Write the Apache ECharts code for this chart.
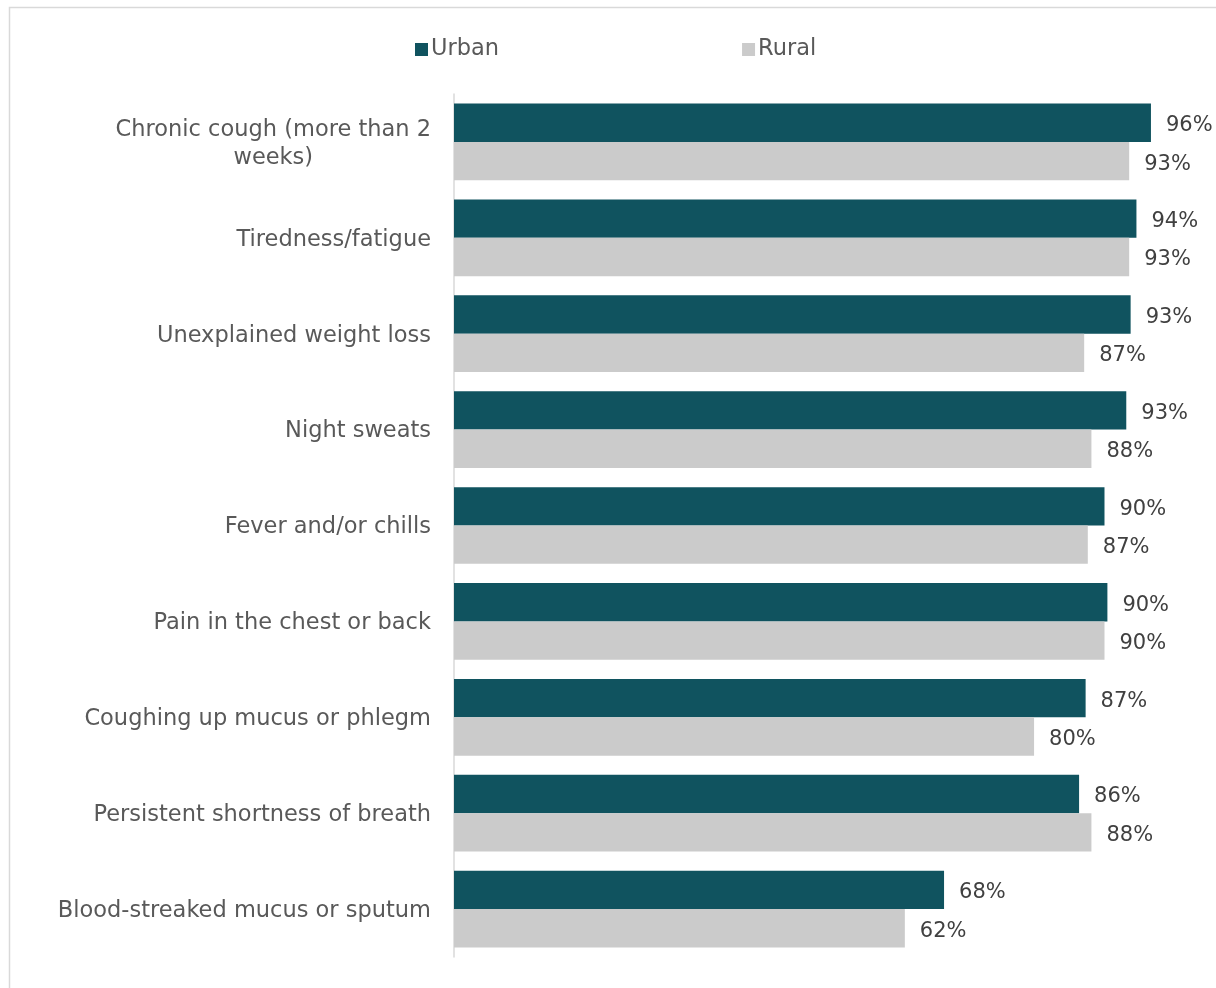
<!DOCTYPE html>
<html>
<head>
<meta charset="utf-8">
<script src="https://cdn.jsdelivr.net/npm/echarts@6/dist/echarts.min.js"></script>
<style>
html,body{margin:0;padding:0;background:#fff;}
#chart{width:1216px;height:988px;}
</style>
</head>
<body>
<div id="chart"></div>
<script>
var categories = [
  "Chronic cough (more than 2\nweeks)",
  "Tiredness/fatigue",
  "Unexplained weight loss",
  "Night sweats",
  "Fever and/or chills",
  "Pain in the chest or back",
  "Coughing up mucus or phlegm",
  "Persistent shortness of breath",
  "Blood-streaked mucus or sputum"
];
var urban = [96.0, 94.0, 93.2, 92.6, 89.6, 90.0, 87.0, 86.1, 67.5];
var rural = [93.0, 93.0, 86.8, 87.8, 87.3, 89.6, 79.9, 87.8, 62.1];
var seriesNames = ["Urban", "Rural"];

var FONT = "DejaVu Sans";
var chart = echarts.init(document.getElementById('chart'));

function pct(p){ return Math.round(p.value) + '%'; }

chart.setOption({
  animation: false,
  backgroundColor: '#ffffff',
  textStyle: { fontFamily: FONT },
  graphic: [{
    type: 'rect',
    shape: { x: 9.5, y: 7.5, width: 1400, height: 1200 },
    style: { fill: 'none', stroke: '#d9d9d9', lineWidth: 1.5 },
    silent: true
  }],
  legend: {
    data: seriesNames,
    left: 410,
    top: 33,
    itemWidth: 13,
    itemHeight: 13,
    itemGap: 243,
    icon: 'rect',
    textStyle: { fontFamily: FONT, fontSize: 22.5, color: '#595959', padding: [0,0,0,-2] }
  },
  grid: { left: 454, right: 36, top: 94, bottom: 31, containLabel: false },
  xAxis: {
    type: 'value',
    min: 0,
    max: 100,
    show: false
  },
  yAxis: {
    type: 'category',
    inverse: true,
    data: categories,
    axisLine: { show: true, lineStyle: { color: '#d9d9d9', width: 1.5 } },
    axisTick: { show: false },
    axisLabel: {
      margin: 23,
      fontFamily: FONT,
      fontSize: 22.5,
      color: '#595959',
      lineHeight: 28,
      padding: [4, 0, 0, 0],
      formatter: function (v) { return '{c|' + v.split('\n').join('}\n{c|') + '}'; },
      rich: { c: { align: 'center', fontFamily: FONT, fontSize: 22.5, color: '#595959', lineHeight: 28 } }
    }
  },
  series: [{
    name: seriesNames[0],
    type: 'bar',
    data: urban,
    barCategoryGap: '20%',
    barGap: '0%',
    itemStyle: { color: '#10535f' },
    label: { show: true, position: 'right', distance: 15, offset: [0, 3], formatter: pct, fontFamily: FONT, fontSize: 21, color: '#404040' }
  }, {
    name: seriesNames[1],
    type: 'bar',
    data: rural,
    barCategoryGap: '20%',
    barGap: '0%',
    itemStyle: { color: '#cbcbcb' },
    label: { show: true, position: 'right', distance: 15, offset: [0, 3], formatter: pct, fontFamily: FONT, fontSize: 21, color: '#404040' }
  }]
});
</script>
</body>
</html>
